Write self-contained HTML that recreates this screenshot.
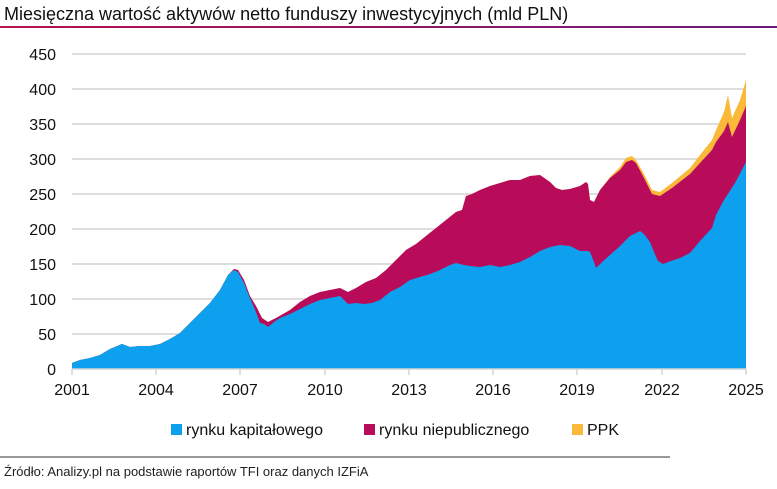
<!DOCTYPE html><html><head><meta charset="utf-8"><style>
body{margin:0;background:#fff;font-family:"Liberation Sans",sans-serif;}
</style></head><body>
<svg width="777" height="484" xmlns="http://www.w3.org/2000/svg" font-family="Liberation Sans, sans-serif">
<defs><linearGradient id="g" x1="0" x2="1"><stop offset="0" stop-color="#b8124f"/><stop offset="1" stop-color="#6a1a7a"/></linearGradient></defs>
<text x="4" y="20" font-size="18" fill="#111">Miesięczna wartość aktywów netto funduszy inwestycyjnych (mld PLN)</text>
<rect x="0" y="26" width="777" height="2" fill="url(#g)"/>
<g stroke="#d4d4d4" stroke-width="1.5">
<line x1="72" x2="746" y1="54" y2="54"/><line x1="72" x2="746" y1="89" y2="89"/><line x1="72" x2="746" y1="124" y2="124"/><line x1="72" x2="746" y1="159" y2="159"/><line x1="72" x2="746" y1="194" y2="194"/><line x1="72" x2="746" y1="229" y2="229"/><line x1="72" x2="746" y1="264" y2="264"/><line x1="72" x2="746" y1="299" y2="299"/><line x1="72" x2="746" y1="334" y2="334"/>
</g>
<g font-size="16" fill="#111" text-anchor="end">
<text x="56" y="60">450</text><text x="56" y="95">400</text><text x="56" y="130">350</text><text x="56" y="165">300</text><text x="56" y="200">250</text><text x="56" y="235">200</text><text x="56" y="270">150</text><text x="56" y="305">100</text><text x="56" y="340">50</text><text x="56" y="375">0</text>
</g>
<polygon fill="#fbb93a" points="72,369 72,363 80,360 90,358 100,355 110,349 122,344 130,347 140,346 150,346 160,344 170,339 180,333 190,323 200,313 210,303 220,290 228,275 234,269 238,270 244,280 250,296 256,306 262,318 268,322 276,318 290,310 300,302 310,296 320,292 330,290 340,288 348,292 356,288 366,282 376,278 386,270 396,260 406,250 416,244 426,236 436,228 446,220 456,212 462,210 466,196 472,194 480,190 490,186 500,183 510,180 520,180 530,176 540,175 550,182 556,188 562,190 570,189 580,186 586,182 588,184 590,200 594,202 600,190 610,177 620,167 626,158 632,156 636,160 644,174 652,190 660,192 672,183 690,168 700,155 712,140 716,130 724,112 728,95 732,118 740,100 746,80 746,369"/>
<polygon fill="#b80b5a" points="72,369 72,363 80,360 90,358 100,355 110,349 122,344 130,347 140,346 150,346 160,344 170,339 180,333 190,323 200,313 210,303 220,290 228,275 234,269 238,270 244,280 250,296 256,306 262,318 268,322 276,318 290,310 300,302 310,296 320,292 330,290 340,288 348,292 356,288 366,282 376,278 386,270 396,260 406,250 416,244 426,236 436,228 446,220 456,212 462,210 466,196 472,194 480,190 490,186 500,183 510,180 520,180 530,176 540,175 550,182 556,188 562,190 570,189 580,186 586,182 588,184 590,200 594,202 600,190 610,178 620,170 626,162 632,160 636,163 644,178 652,194 660,196 672,188 690,174 700,163 712,150 716,142 724,131 728,122 732,137 740,120 746,106 746,369"/>
<polygon fill="#0ca0ef" points="72,369 72,363 80,360 90,358 100,355 110,349 122,344 130,347 140,346 150,346 160,344 170,339 180,333 190,323 200,313 210,303 220,290 228,275 234,270 238,272 244,283 250,298 256,312 260,323 264,324 268,327 274,322 280,318 290,314 300,309 310,304 320,300 330,298 340,296 348,304 356,303 364,304 372,303 380,300 390,292 400,287 410,280 420,277 430,274 440,270 450,265 456,263 464,265 470,266 480,267 490,265 500,267 510,265 520,262 530,257 540,251 550,247 560,245 570,246 580,251 588,251 590,252 594,262 596,268 600,264 610,255 620,246 630,236 640,231 644,234 650,242 654,252 658,261 663,264 668,262 680,258 690,253 700,241 712,228 716,215 724,200 735,183 746,162 746,369"/>
<line x1="72" x2="746" y1="369" y2="369" stroke="#d4d4d4" stroke-width="1.5"/>
<g stroke="#d4d4d4" stroke-width="1.5"><line x1="72" x2="72" y1="369" y2="375"/><line x1="156" x2="156" y1="369" y2="375"/><line x1="240" x2="240" y1="369" y2="375"/><line x1="325" x2="325" y1="369" y2="375"/><line x1="409" x2="409" y1="369" y2="375"/><line x1="493" x2="493" y1="369" y2="375"/><line x1="577" x2="577" y1="369" y2="375"/><line x1="662" x2="662" y1="369" y2="375"/><line x1="746" x2="746" y1="369" y2="375"/></g>
<g font-size="16" fill="#111" text-anchor="middle">
<text x="72" y="395">2001</text><text x="156" y="395">2004</text><text x="240" y="395">2007</text><text x="325" y="395">2010</text><text x="409" y="395">2013</text><text x="493" y="395">2016</text><text x="577" y="395">2019</text><text x="662" y="395">2022</text><text x="746" y="395">2025</text>
</g>
<g font-size="16" fill="#111">
<rect x="171" y="424" width="11" height="11" fill="#0ca0ef"/><text x="186" y="435">rynku kapitałowego</text>
<rect x="364" y="424" width="11" height="11" fill="#b80b5a"/><text x="379" y="435">rynku niepublicznego</text>
<rect x="572" y="424" width="11" height="11" fill="#fbb93a"/><text x="587" y="435">PPK</text>
</g>
<line x1="0" x2="670" y1="457" y2="457" stroke="#333" stroke-width="1"/>
<text x="4" y="476" font-size="13" fill="#222">Źródło: Analizy.pl na podstawie raportów TFI oraz danych IZFiA</text>
</svg>
</body></html>
